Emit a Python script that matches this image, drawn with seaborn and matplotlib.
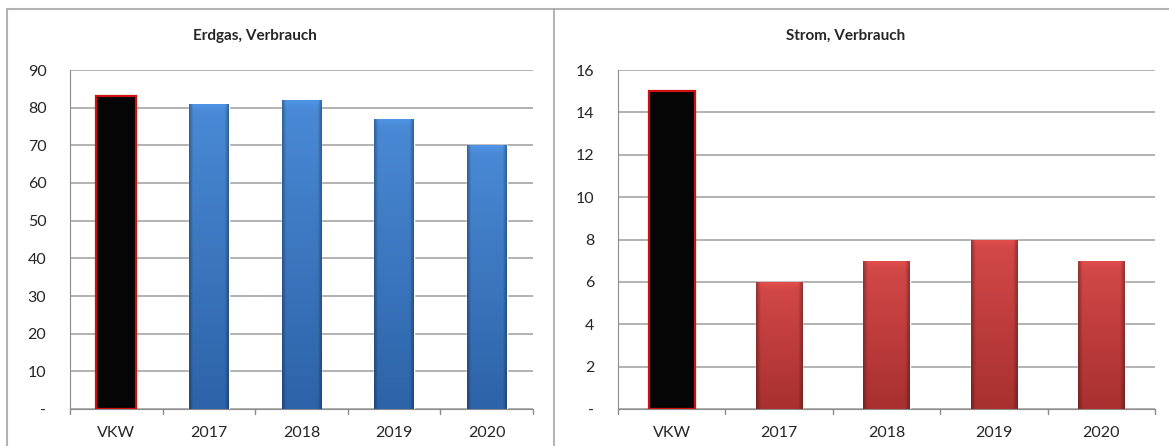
import numpy as np
import pandas as pd
import matplotlib
matplotlib.use('Agg')
import matplotlib.pyplot as plt
import seaborn as sns
from matplotlib.colors import to_rgb

# data
labels = ['VKW', '2017', '2018', '2019', '2020']
gas_values = [83, 81, 82, 77, 70]
power_values = [15, 6, 7, 8, 7]
gas_ticks = [0, 10, 20, 30, 40, 50, 60, 70, 80, 90]
power_ticks = [0, 2, 4, 6, 8, 10, 12, 14, 16]

sns.set_style('white')
plt.rcParams['font.family'] = ['Lato', 'DejaVu Sans']

fig = plt.figure(figsize=(11.69, 4.46), dpi=100)

# outer frame lines like the excel export
fig.add_artist(plt.Line2D([7 / 1169, 1], [1 - 9 / 446] * 2, color='#b3b3b3', lw=1.5))
fig.add_artist(plt.Line2D([7 / 1169] * 2, [0, 1 - 9 / 446], color='#b3b3b3', lw=1.5))
fig.add_artist(plt.Line2D([554 / 1169] * 2, [0, 1 - 9 / 446], color='#a6a6a6', lw=1.2))

ax1 = fig.add_axes([70 / 1169, 37 / 446, 463 / 1169, 339 / 446])
ax2 = fig.add_axes([618 / 1169, 37 / 446, 537 / 1169, 339 / 446])


def shade(ax, top, bottom):
    # excel-like gradient on each bar, clipped to the bar shape
    top = np.array(to_rgb(top))
    bottom = np.array(to_rgb(bottom))
    for p in ax.patches:
        x0, y0 = p.get_x(), p.get_y()
        w, h = p.get_width(), p.get_height()
        ny, nx = 300, 60
        t = np.linspace(0, 1, ny)[:, None, None]
        img = top * (1 - t) + bottom * t
        u = np.linspace(0, 1, nx)
        edge = 1 - 0.3 * (np.clip(1 - u / 0.1, 0, 1) + np.clip(1 - (1 - u) / 0.1, 0, 1))
        img = img * edge[None, :, None]
        # soft bevel at the top
        bevel = ax.get_ylim()[1] * 0.025 / max(h, 1e-9)
        v = np.linspace(0, 1, ny)
        glow = np.clip(1 - v / bevel, 0, 1) * 0.08
        img = np.clip(img * (1 + glow[:, None, None]), 0, 1)
        im = ax.imshow(img, extent=[x0, x0 + w, y0, y0 + h], aspect='auto',
                       origin='upper', zorder=p.get_zorder() + 0.1, interpolation='bilinear')
        im.set_clip_path(p)


def draw(ax, values, ticks, color, top, bottom, title, tx):
    df = pd.DataFrame({'label': labels, 'value': values})
    sns.barplot(data=df, x='label', y='value', ax=ax, color=color, width=0.43,
                saturation=1, zorder=3)
    ax.set_ylim(ticks[0], ticks[-1])
    ax.set_xlim(-0.5, len(labels) - 0.5)
    shade(ax, top, bottom)
    # first bar is black with red outline
    vkw = ax.patches[0]
    vkw.set_facecolor('#050505')
    vkw.set_edgecolor('#d01010')
    vkw.set_linewidth(1.6)
    vkw.set_zorder(4)
    for im in ax.images[:1]:
        im.remove()

    ax.set_yticks(ticks)
    ax.set_yticklabels(['-'] + [str(t) for t in ticks[1:]], fontsize=11.5)
    ax.set_xticks(range(len(labels)))
    ax.set_xticklabels(labels, fontsize=11.5)
    ax.tick_params(axis='x', length=0, pad=12)
    ax.tick_params(axis='y', length=5, width=1, color='#8c8c8c', direction='out', pad=12)
    for xb in np.arange(-0.5, len(labels), 1.0):
        ax.plot([xb, xb], [0, -0.014 * ticks[-1]], color='#8c8c8c', lw=1, clip_on=False)
    ax.grid(axis='y', color='#a6a6a6', lw=1.2, zorder=0)
    ax.set_axisbelow(True)
    for s in ['top', 'right']:
        ax.spines[s].set_visible(False)
    ax.spines['left'].set_color('#8c8c8c')
    ax.spines['bottom'].set_color('#8c8c8c')
    ax.set_xlabel('')
    ax.set_ylabel('')
    fig.text(tx / 1169, 1 - 36 / 446, title, ha='center', va='center',
             fontsize=11, fontweight='bold')


draw(ax1, gas_values, gas_ticks, '#3c78c3', '#4a8ad6', '#2d63a8',
     'Erdgas, Verbrauch', 255)
draw(ax2, power_values, power_ticks, '#c23b3b', '#d44948', '#a83030',
     'Strom, Verbrauch', 846)

fig.savefig('out.png', dpi=100)
